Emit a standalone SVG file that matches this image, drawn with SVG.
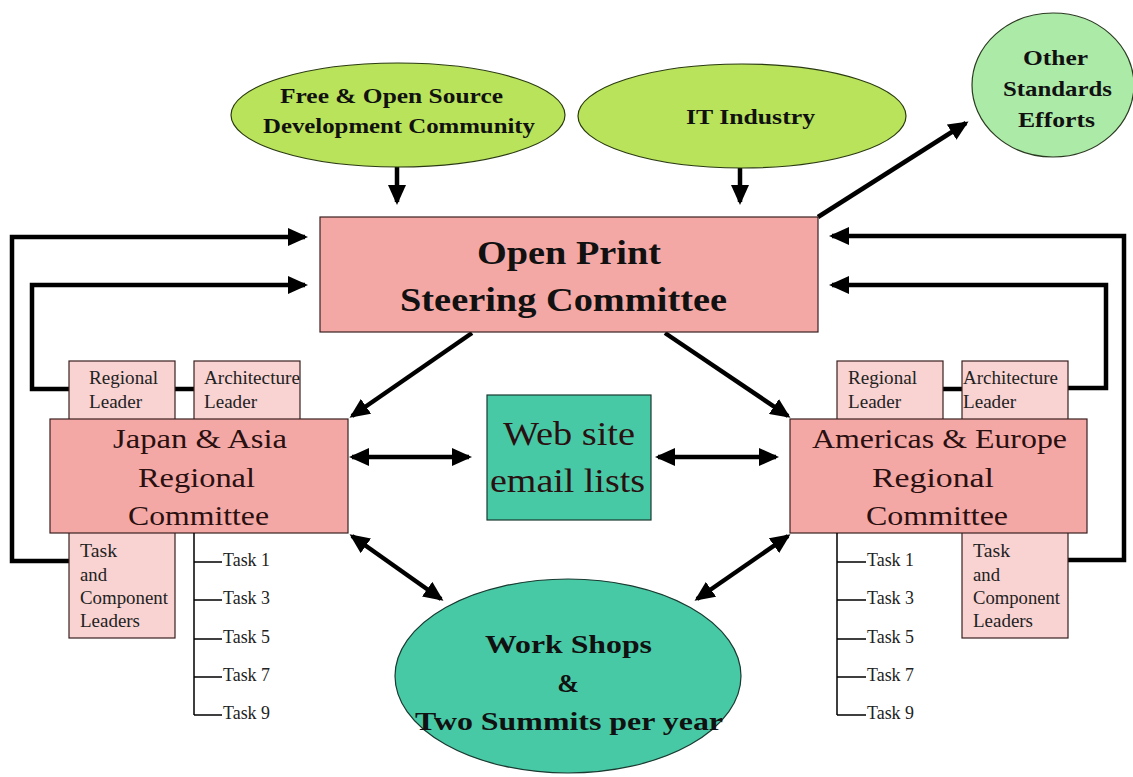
<svg xmlns="http://www.w3.org/2000/svg" width="1133" height="777" viewBox="0 0 1133 777">
<style>
.pink{fill:#F4A8A6;stroke:#3a2020;stroke-width:1.2}
.lpink{fill:#F9D3D2;stroke:#3a2020;stroke-width:1.2}
.lime{fill:#B8E35A;stroke:#2a3a10;stroke-width:1.2}
.mint{fill:#ACEAA8;stroke:#2a3a20;stroke-width:1.2}
.teal{fill:#48C9A6;stroke:#1a3a30;stroke-width:1.2}
.conn{fill:none;stroke:#000;stroke-width:4.5}
.tree{fill:none;stroke:#000;stroke-width:1.5}
text{font-family:"Liberation Serif","Times New Roman",serif}
.bold{font-weight:bold;fill:#111}
.reg{fill:#2a1010}
.sm{fill:#222;font-size:18px}
</style>
<defs>
<marker id="ah" viewBox="0 0 20 18" refX="17" refY="9" markerWidth="20" markerHeight="18" markerUnits="userSpaceOnUse" orient="auto-start-reverse">
<path d="M0,0 L20,9 L0,18 z" fill="#000"/>
</marker>
</defs>
<rect width="1133" height="777" fill="#fff"/>

<g id="connectors">
<line class="conn" x1="397" y1="167" x2="397" y2="202" marker-end="url(#ah)"/>
<line class="conn" x1="740" y1="168" x2="740" y2="202" marker-end="url(#ah)"/>
<line class="conn" x1="818" y1="217" x2="966" y2="123" marker-end="url(#ah)"/>
<polyline class="conn" points="69,561 12,561 12,237 305,237" marker-end="url(#ah)"/>
<polyline class="conn" points="69,389 32,389 32,285 305,285" marker-end="url(#ah)"/>
<line class="conn" x1="175" y1="389" x2="194" y2="389"/>
<polyline class="conn" points="1068,388 1106,388 1106,285 832,285" marker-end="url(#ah)"/>
<polyline class="conn" points="1068,560 1124,560 1124,236 832,236" marker-end="url(#ah)"/>
<line class="conn" x1="943" y1="389" x2="962" y2="389"/>
<line class="conn" x1="472" y1="333" x2="352" y2="416" marker-end="url(#ah)"/>
<line class="conn" x1="665" y1="333" x2="788" y2="416" marker-end="url(#ah)"/>
<line class="conn" x1="352" y1="457" x2="469" y2="457" marker-start="url(#ah)" marker-end="url(#ah)"/>
<line class="conn" x1="658" y1="457" x2="776" y2="457" marker-start="url(#ah)" marker-end="url(#ah)"/>
<line class="conn" x1="352" y1="536" x2="441" y2="599" marker-start="url(#ah)" marker-end="url(#ah)"/>
<line class="conn" x1="788" y1="536" x2="697" y2="599" marker-start="url(#ah)" marker-end="url(#ah)"/>
</g>

<g id="foss">
<ellipse class="lime" cx="398" cy="115" rx="167" ry="52"/>
<text class="bold" x="280" y="103" font-size="21" textLength="223" lengthAdjust="spacingAndGlyphs">Free &amp; Open Source</text>
<text class="bold" x="263" y="133" font-size="21" textLength="272" lengthAdjust="spacingAndGlyphs">Development Community</text>
</g>
<g id="it-industry">
<ellipse class="lime" cx="742" cy="116" rx="164" ry="52"/>
<text class="bold" x="686" y="124" font-size="21" textLength="129" lengthAdjust="spacingAndGlyphs">IT Industry</text>
</g>
<g id="other-standards">
<ellipse class="mint" cx="1053" cy="85" rx="81" ry="72"/>
<text class="bold" x="1023" y="65" font-size="21" textLength="65" lengthAdjust="spacingAndGlyphs">Other</text>
<text class="bold" x="1003" y="96" font-size="21" textLength="109" lengthAdjust="spacingAndGlyphs">Standards</text>
<text class="bold" x="1018" y="127" font-size="21" textLength="77" lengthAdjust="spacingAndGlyphs">Efforts</text>
</g>
<g id="steering">
<rect class="pink" x="320" y="217" width="498" height="115"/>
<text class="bold" x="477" y="264" font-size="33" textLength="184" lengthAdjust="spacingAndGlyphs">Open Print</text>
<text class="bold" x="400" y="311" font-size="33" textLength="327" lengthAdjust="spacingAndGlyphs">Steering Committee</text>
</g>

<g id="japan-regional-leader">
<rect class="lpink" x="69" y="361" width="106" height="70"/>
<text class="sm" x="89" y="384" textLength="69" lengthAdjust="spacingAndGlyphs">Regional</text>
<text class="sm" x="89" y="408" textLength="53" lengthAdjust="spacingAndGlyphs">Leader</text>
</g>
<g id="japan-architecture-leader">
<rect class="lpink" x="194" y="361" width="106" height="70"/>
<text class="sm" x="204" y="384" textLength="96" lengthAdjust="spacingAndGlyphs">Architecture</text>
<text class="sm" x="204" y="408" textLength="53" lengthAdjust="spacingAndGlyphs">Leader</text>
</g>
<g id="japan-task-leaders">
<rect class="lpink" x="69" y="520" width="106" height="118"/>
<text class="sm" x="80" y="557" textLength="37" lengthAdjust="spacingAndGlyphs">Task</text>
<text class="sm" x="80" y="581" textLength="27" lengthAdjust="spacingAndGlyphs">and</text>
<text class="sm" x="80" y="604" textLength="88" lengthAdjust="spacingAndGlyphs">Component</text>
<text class="sm" x="80" y="627" textLength="60" lengthAdjust="spacingAndGlyphs">Leaders</text>
</g>
<g id="japan">
<rect class="pink" x="50" y="419" width="298" height="114"/>
<text class="reg" x="113" y="448" font-size="27" textLength="174" lengthAdjust="spacingAndGlyphs">Japan &amp; Asia</text>
<text class="reg" x="138" y="487" font-size="27" textLength="117" lengthAdjust="spacingAndGlyphs">Regional</text>
<text class="reg" x="128" y="525" font-size="27" textLength="141" lengthAdjust="spacingAndGlyphs">Committee</text>
</g>
<g id="japan-tasks">
<path class="tree" d="M194,533 V715 M194,562 H222 M194,600 H222 M194,639 H222 M194,677 H222 M194,715 H222"/>
<text class="sm" x="223" y="566" textLength="47" lengthAdjust="spacingAndGlyphs">Task 1</text>
<text class="sm" x="223" y="604" textLength="47" lengthAdjust="spacingAndGlyphs">Task 3</text>
<text class="sm" x="223" y="643" textLength="47" lengthAdjust="spacingAndGlyphs">Task 5</text>
<text class="sm" x="223" y="681" textLength="47" lengthAdjust="spacingAndGlyphs">Task 7</text>
<text class="sm" x="223" y="719" textLength="47" lengthAdjust="spacingAndGlyphs">Task 9</text>
</g>

<g id="americas-regional-leader">
<rect class="lpink" x="837" y="361" width="106" height="70"/>
<text class="sm" x="848" y="384" textLength="69" lengthAdjust="spacingAndGlyphs">Regional</text>
<text class="sm" x="848" y="408" textLength="53" lengthAdjust="spacingAndGlyphs">Leader</text>
</g>
<g id="americas-architecture-leader">
<rect class="lpink" x="962" y="361" width="106" height="70"/>
<text class="sm" x="963" y="384" textLength="95" lengthAdjust="spacingAndGlyphs">Architecture</text>
<text class="sm" x="963" y="408" textLength="53" lengthAdjust="spacingAndGlyphs">Leader</text>
</g>
<g id="americas-task-leaders">
<rect class="lpink" x="962" y="520" width="106" height="118"/>
<text class="sm" x="973" y="557" textLength="37" lengthAdjust="spacingAndGlyphs">Task</text>
<text class="sm" x="973" y="581" textLength="27" lengthAdjust="spacingAndGlyphs">and</text>
<text class="sm" x="973" y="604" textLength="87" lengthAdjust="spacingAndGlyphs">Component</text>
<text class="sm" x="973" y="627" textLength="60" lengthAdjust="spacingAndGlyphs">Leaders</text>
</g>
<g id="americas">
<rect class="pink" x="790" y="419" width="297" height="114"/>
<text class="reg" x="812" y="448" font-size="27" textLength="255" lengthAdjust="spacingAndGlyphs">Americas &amp; Europe</text>
<text class="reg" x="872" y="487" font-size="27" textLength="122" lengthAdjust="spacingAndGlyphs">Regional</text>
<text class="reg" x="866" y="525" font-size="27" textLength="142" lengthAdjust="spacingAndGlyphs">Committee</text>
</g>
<g id="americas-tasks">
<path class="tree" d="M837,533 V715 M837,562 H866 M837,600 H866 M837,639 H866 M837,677 H866 M837,715 H866"/>
<text class="sm" x="867" y="566" textLength="47" lengthAdjust="spacingAndGlyphs">Task 1</text>
<text class="sm" x="867" y="604" textLength="47" lengthAdjust="spacingAndGlyphs">Task 3</text>
<text class="sm" x="867" y="643" textLength="47" lengthAdjust="spacingAndGlyphs">Task 5</text>
<text class="sm" x="867" y="681" textLength="47" lengthAdjust="spacingAndGlyphs">Task 7</text>
<text class="sm" x="867" y="719" textLength="47" lengthAdjust="spacingAndGlyphs">Task 9</text>
</g>

<g id="website">
<rect class="teal" x="487" y="395" width="164" height="125"/>
<text class="reg" x="503" y="445" font-size="34" fill="#102a20" textLength="132" lengthAdjust="spacingAndGlyphs">Web site</text>
<text class="reg" x="490" y="492" font-size="34" fill="#102a20" textLength="155" lengthAdjust="spacingAndGlyphs">email lists</text>
</g>
<g id="workshops">
<ellipse class="teal" cx="568" cy="676" rx="173" ry="97"/>
<text class="bold" x="485" y="653" font-size="26" textLength="167" lengthAdjust="spacingAndGlyphs">Work Shops</text>
<text class="bold" x="568" y="692" font-size="26" text-anchor="middle">&amp;</text>
<text class="bold" x="415" y="730" font-size="26" textLength="308" lengthAdjust="spacingAndGlyphs">Two Summits per year</text>
</g>
</svg>
